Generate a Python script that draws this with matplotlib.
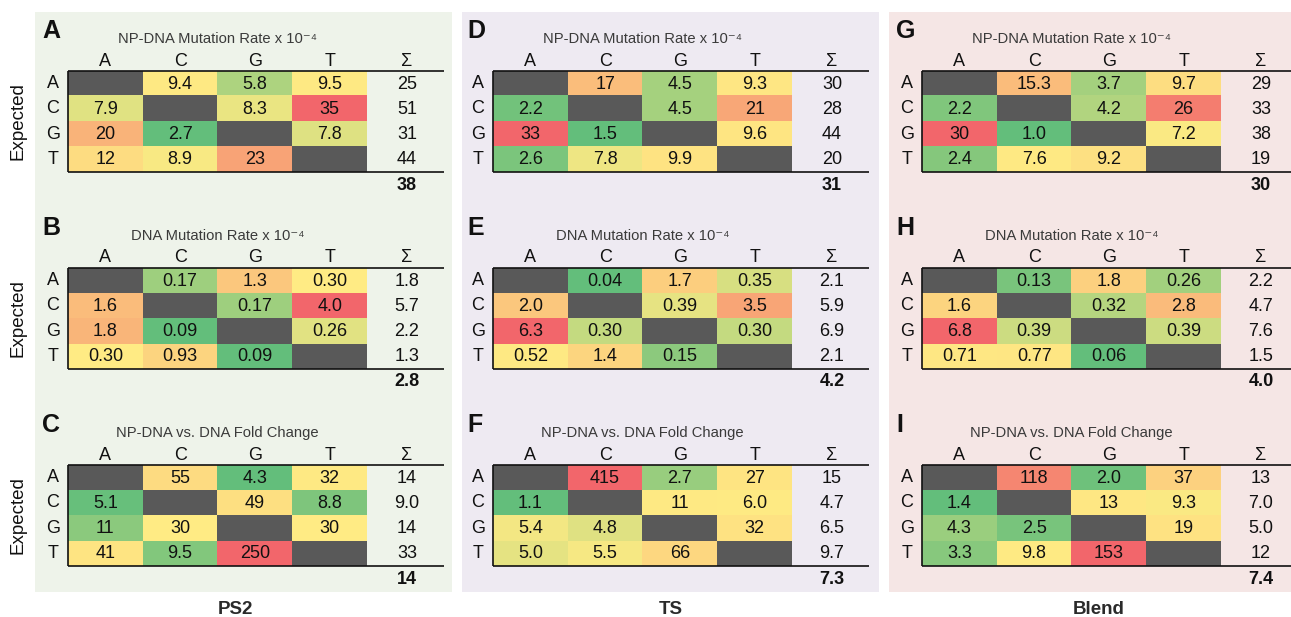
import numpy as np
import matplotlib
matplotlib.use('Agg')
import matplotlib.pyplot as plt
from matplotlib.patches import Rectangle

plt.rcParams['font.family'] = ['Liberation Sans', 'DejaVu Sans']

# ---------------- data ----------------
bases = ['A', 'C', 'G', 'T']
groups = ['PS2', 'TS', 'Blend']
panel_letters = [['A', 'B', 'C'], ['D', 'E', 'F'], ['G', 'H', 'I']]
titles = ['NP-DNA Mutation Rate x 10\u207b\u2074',
          'DNA Mutation Rate x 10\u207b\u2074',
          'NP-DNA vs. DNA Fold Change']

ps2_np = [['', '9.4', '5.8', '9.5'], ['7.9', '', '8.3', '35'],
          ['20', '2.7', '', '7.8'], ['12', '8.9', '23', '']]
ps2_np_sum = ['25', '51', '31', '44']
ps2_np_total = '38'
ps2_dna = [['', '0.17', '1.3', '0.30'], ['1.6', '', '0.17', '4.0'],
           ['1.8', '0.09', '', '0.26'], ['0.30', '0.93', '0.09', '']]
ps2_dna_sum = ['1.8', '5.7', '2.2', '1.3']
ps2_dna_total = '2.8'
ps2_fold = [['', '55', '4.3', '32'], ['5.1', '', '49', '8.8'],
            ['11', '30', '', '30'], ['41', '9.5', '250', '']]
ps2_fold_sum = ['14', '9.0', '14', '33']
ps2_fold_total = '14'

ts_np = [['', '17', '4.5', '9.3'], ['2.2', '', '4.5', '21'],
         ['33', '1.5', '', '9.6'], ['2.6', '7.8', '9.9', '']]
ts_np_sum = ['30', '28', '44', '20']
ts_np_total = '31'
ts_dna = [['', '0.04', '1.7', '0.35'], ['2.0', '', '0.39', '3.5'],
          ['6.3', '0.30', '', '0.30'], ['0.52', '1.4', '0.15', '']]
ts_dna_sum = ['2.1', '5.9', '6.9', '2.1']
ts_dna_total = '4.2'
ts_fold = [['', '415', '2.7', '27'], ['1.1', '', '11', '6.0'],
           ['5.4', '4.8', '', '32'], ['5.0', '5.5', '66', '']]
ts_fold_sum = ['15', '4.7', '6.5', '9.7']
ts_fold_total = '7.3'

bl_np = [['', '15.3', '3.7', '9.7'], ['2.2', '', '4.2', '26'],
         ['30', '1.0', '', '7.2'], ['2.4', '7.6', '9.2', '']]
bl_np_sum = ['29', '33', '38', '19']
bl_np_total = '30'
bl_dna = [['', '0.13', '1.8', '0.26'], ['1.6', '', '0.32', '2.8'],
          ['6.8', '0.39', '', '0.39'], ['0.71', '0.77', '0.06', '']]
bl_dna_sum = ['2.2', '4.7', '7.6', '1.5']
bl_dna_total = '4.0'
bl_fold = [['', '118', '2.0', '37'], ['1.4', '', '13', '9.3'],
           ['4.3', '2.5', '', '19'], ['3.3', '9.8', '153', '']]
bl_fold_sum = ['13', '7.0', '5.0', '12']
bl_fold_total = '7.4'

tables = [
    [(ps2_np, ps2_np_sum, ps2_np_total), (ps2_dna, ps2_dna_sum, ps2_dna_total),
     (ps2_fold, ps2_fold_sum, ps2_fold_total)],
    [(ts_np, ts_np_sum, ts_np_total), (ts_dna, ts_dna_sum, ts_dna_total),
     (ts_fold, ts_fold_sum, ts_fold_total)],
    [(bl_np, bl_np_sum, bl_np_total), (bl_dna, bl_dna_sum, bl_dna_total),
     (bl_fold, bl_fold_sum, bl_fold_total)],
]

# ---------------- style / layout ----------------
W, H = 1291, 617
GREEN = np.array([99, 190, 123]) / 255
YELLOW = np.array([255, 235, 132]) / 255
RED = np.array([242, 102, 107]) / 255
DIAG = '#595959'
bg_colors = ['#eef3ea', '#eeeaf2', '#f5e6e5']
bg_x = [(35, 452), (462, 879), (889, 1291)]
bg_y = (12, 592)
table_left = [68, 493, 922]
line_right = [444, 869, 1291]
table_top = [71, 268, 465]
cell_w, cell_h = 74.75, 25.25
sigma_x_px = 339
group_label_x = [235, 671, 1099]
group_label_y = 610
FS = 13
TXT = '#111111'


def excel_colors(vals):
    v = np.array(vals, dtype=float)
    lo, mid, hi = v.min(), np.percentile(v, 50), v.max()
    out = []
    for x in v:
        if x <= mid:
            t = 0 if mid == lo else (x - lo) / (mid - lo)
            c = GREEN + (YELLOW - GREEN) * t
        else:
            t = (x - mid) / (hi - mid)
            c = YELLOW + (RED - YELLOW) * t
        out.append(c)
    return out


fig = plt.figure(figsize=(W / 100, H / 100), dpi=100)
fig.patch.set_facecolor('white')

for g in range(3):
    x0, x1 = bg_x[g]
    fig.add_artist(Rectangle((x0 / W, 1 - bg_y[1] / H), (x1 - x0) / W,
                             (bg_y[1] - bg_y[0]) / H, transform=fig.transFigure,
                             facecolor=bg_colors[g], edgecolor='none', zorder=0))
    fig.text(group_label_x[g] / W, 1 - group_label_y / H, groups[g],
             ha='center', va='center', fontsize=13.5, fontweight='bold', color='#2a2a2a')

    for p in range(3):
        mat, sums, total = tables[g][p]
        left = table_left[g]
        top = table_top[p]
        lw_px = line_right[g] - left
        hh = 4 * cell_h
        ax = fig.add_axes([left / W, 1 - (top + hh) / H, lw_px / W, hh / H])
        ax.set_xlim(0, lw_px / cell_w)
        ax.set_ylim(4, 0)
        ax.axis('off')

        vals = [float(mat[i][j]) for i in range(4) for j in range(4) if i != j]
        cols = excel_colors(vals)
        img = np.zeros((4, 4, 4))
        k = 0
        diag_rgb = np.array(matplotlib.colors.to_rgb(DIAG))
        for i in range(4):
            for j in range(4):
                if i == j:
                    img[i, j, :3] = diag_rgb
                else:
                    img[i, j, :3] = cols[k]
                    k += 1
                img[i, j, 3] = 1
        ax.imshow(img, extent=(0, 4, 4, 0), interpolation='nearest', aspect='auto', zorder=1)

        for i in range(4):
            for j in range(4):
                if i != j:
                    ax.text(j + 0.5, i + 0.52, mat[i][j], ha='center', va='center',
                            fontsize=FS, color=TXT, zorder=3)
        sx = sigma_x_px / cell_w
        for i in range(4):
            ax.text(sx, i + 0.52, sums[i], ha='center', va='center', fontsize=FS,
                    color=TXT, zorder=3)
        ax.annotate(total, xy=(sx, 4), xytext=(0, -13), textcoords='offset pixels',
                    ha='center', va='center', fontsize=FS, fontweight='bold',
                    color=TXT, annotation_clip=False)

        # lines
        xr = lw_px / cell_w
        for (xs, ys) in [([0, xr], [0, 0]), ([0, xr], [4, 4]), ([0, 0], [0, 4])]:
            ax.plot(xs, ys, color=TXT, lw=1.2, clip_on=False, zorder=4,
                    solid_capstyle='butt')

        # headers
        for j, b in enumerate(bases):
            ax.annotate(b, xy=(j + 0.5, 0), xytext=(0, 10), textcoords='offset pixels',
                        ha='center', va='center', fontsize=FS, color=TXT,
                        annotation_clip=False)
        ax.annotate('\u03a3', xy=(sx, 0), xytext=(0, 10), textcoords='offset pixels',
                    ha='center', va='center', fontsize=FS, color=TXT,
                    annotation_clip=False)
        for i, b in enumerate(bases):
            ax.annotate(b, xy=(0, i + 0.5), xytext=(-15, 0), textcoords='offset pixels',
                        ha='center', va='center', fontsize=FS, color=TXT,
                        annotation_clip=False)
        ax.annotate(titles[p], xy=(2, 0), xytext=(0, 32), textcoords='offset pixels',
                    ha='center', va='center', fontsize=10.6, color='#3a3a3a',
                    annotation_clip=False)
        ax.annotate(panel_letters[g][p], xy=(0, 0), xytext=(-26, 40),
                    textcoords='offset pixels', ha='left', va='center', fontsize=18,
                    fontweight='bold', color=TXT, annotation_clip=False)
        if g == 0:
            ax.annotate('Expected', xy=(0, 2), xytext=(-50, 0), textcoords='offset pixels',
                        ha='center', va='center', rotation=90, fontsize=13.5,
                        color=TXT, annotation_clip=False)

fig.savefig('out.png', dpi=100)
